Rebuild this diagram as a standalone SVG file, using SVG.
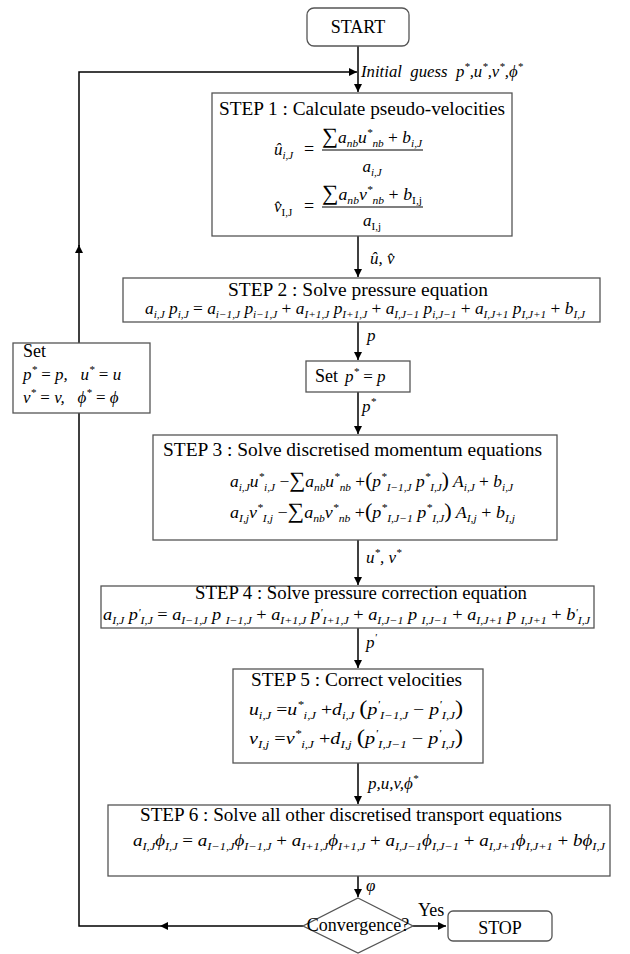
<svg xmlns="http://www.w3.org/2000/svg" width="630" height="954" viewBox="0 0 630 954">
<style>
.box{fill:#fff;stroke:#555;stroke-width:1.3}
.con{fill:none;stroke:#000;stroke-width:1.5}
text{font-family:"Liberation Serif","Times New Roman",serif}
.t{font-size:18px;fill:#000}
.e{font-style:italic;font-size:17px;fill:#000}
.n{font-style:normal}
.sb{font-size:11px;baseline-shift:-4px}
.sp{font-size:11px;baseline-shift:7px}
.sp4{font-size:11px;baseline-shift:4px}
.big{font-style:normal;font-size:22px}
.par{font-style:normal;font-size:21px}
</style>
<defs>
<marker id="ah" markerUnits="userSpaceOnUse" markerWidth="9" markerHeight="9" refX="8" refY="4" orient="auto">
<path d="M0,0 L8,4 L0,8 z" fill="#000"/>
</marker>
</defs>

<g id="connectors">
<path class="con" d="M358 46 V92" marker-end="url(#ah)"/>
<path class="con" d="M358 236 V277" marker-end="url(#ah)"/>
<path class="con" d="M358 322 V360" marker-end="url(#ah)"/>
<path class="con" d="M358 392 V434" marker-end="url(#ah)"/>
<path class="con" d="M358 540 V585" marker-end="url(#ah)"/>
<path class="con" d="M358 628 V668" marker-end="url(#ah)"/>
<path class="con" d="M358 763 V804" marker-end="url(#ah)"/>
<path class="con" d="M358 876 V897" marker-end="url(#ah)"/>
<path class="con" d="M413 926 H446" marker-end="url(#ah)"/>
<path class="con" d="M303 926 H160" marker-end="url(#ah)"/>
<path class="con" d="M160 926 H79 V245" marker-end="url(#ah)"/>
<path class="con" d="M79 246 V72 H357" marker-end="url(#ah)"/>
<text class="e" x="361" y="77" font-size="16" xml:space="preserve" textLength="162" lengthAdjust="spacingAndGlyphs">Initial  guess  p<tspan class="sp">*</tspan>,u<tspan class="sp">*</tspan>,v<tspan class="sp">*</tspan>,ϕ<tspan class="sp">*</tspan></text>
<text class="e" x="370" y="264">û, v̂</text>
<text class="e" x="367" y="341">p</text>
<text class="e" x="362" y="412">p<tspan class="sp">*</tspan></text>
<text class="e" x="366" y="563">u<tspan class="sp">*</tspan>, v<tspan class="sp">*</tspan></text>
<text class="e" x="366" y="648">p<tspan class="sp">'</tspan></text>
<text class="e" x="368" y="789">p,u,v,ϕ<tspan class="sp">*</tspan></text>
<text class="e" x="366" y="891" font-size="14">φ</text>
<text class="t" x="418" y="916">Yes</text>
</g>

<g id="start">
<rect class="box" x="307" y="8" width="102" height="38" rx="7"/>
<text class="t" x="358" y="33" text-anchor="middle" font-size="17">START</text>
</g>

<g id="step1">
<rect class="box" x="212" y="93" width="300" height="143"/>
<text class="t" x="219" y="115" textLength="286" lengthAdjust="spacingAndGlyphs">STEP 1 : Calculate pseudo-velocities</text>
<text class="e" x="274" y="155">û<tspan class="sb">i,J</tspan></text>
<text class="t" x="304" y="155" font-size="17">=</text>
<text class="e" x="322" y="143" textLength="100" lengthAdjust="spacingAndGlyphs"><tspan class="big">∑</tspan>a<tspan class="sb">nb</tspan>u<tspan class="sp">*</tspan><tspan class="sb">nb</tspan> <tspan class="n">+</tspan> b<tspan class="sb">i,J</tspan></text>
<line x1="322" y1="150" x2="423" y2="150" stroke="#000" stroke-width="1.2"/>
<text class="e" x="372" y="172" text-anchor="middle">a<tspan class="sb">i,J</tspan></text>
<text class="e" x="274" y="212">v̂<tspan class="sb n">I,J</tspan></text>
<text class="t" x="304" y="212" font-size="17">=</text>
<text class="e" x="322" y="200" textLength="100" lengthAdjust="spacingAndGlyphs"><tspan class="big">∑</tspan>a<tspan class="sb">nb</tspan>v<tspan class="sp">*</tspan><tspan class="sb">nb</tspan> <tspan class="n">+</tspan> b<tspan class="sb n">I,j</tspan></text>
<line x1="322" y1="207" x2="423" y2="207" stroke="#000" stroke-width="1.2"/>
<text class="e" x="372" y="226" text-anchor="middle">a<tspan class="sb n">I,j</tspan></text>
</g>

<g id="step2">
<rect class="box" x="123" y="278" width="477" height="44"/>
<text class="t" x="228" y="296" textLength="260" lengthAdjust="spacingAndGlyphs">STEP 2 : Solve pressure equation</text>
<text class="e" x="145" y="314" textLength="440" lengthAdjust="spacingAndGlyphs">a<tspan class="sb">i,J</tspan> p<tspan class="sb">i,J</tspan> <tspan class="n">=</tspan> a<tspan class="sb">i−1,J</tspan> p<tspan class="sb">i−1,J</tspan> <tspan class="n">+</tspan> a<tspan class="sb">I+1,J</tspan> p<tspan class="sb">I+1,J</tspan> <tspan class="n">+</tspan> a<tspan class="sb">I,J−1</tspan> p<tspan class="sb">i,J−1</tspan> <tspan class="n">+</tspan> a<tspan class="sb">I,J+1</tspan> p<tspan class="sb">I,J+1</tspan> <tspan class="n">+</tspan> b<tspan class="sb">I,J</tspan></text>
</g>

<g id="set-p">
<rect class="box" x="306" y="361" width="104" height="31"/>
<text class="t" x="315" y="382" font-size="17">Set</text>
<text class="e" x="345" y="382">p<tspan class="sp">*</tspan> <tspan class="n">=</tspan> p</text>
</g>

<g id="set-all">
<rect class="box" x="13" y="343" width="137" height="70"/>
<text class="t" x="23" y="357" font-size="17">Set</text>
<text class="e" x="23" y="380" xml:space="preserve">p<tspan class="sp">*</tspan> <tspan class="n">=</tspan> p,   u<tspan class="sp">*</tspan> <tspan class="n">=</tspan> u</text>
<text class="e" x="23" y="403" xml:space="preserve">v<tspan class="sp">*</tspan> <tspan class="n">=</tspan> v,   ϕ<tspan class="sp">*</tspan> <tspan class="n">=</tspan> ϕ</text>
</g>

<g id="step3">
<rect class="box" x="153" y="435" width="404" height="105"/>
<text class="t" x="163" y="456" textLength="379" lengthAdjust="spacingAndGlyphs">STEP 3 : Solve discretised momentum equations</text>
<text class="e" x="230" y="487" textLength="283" lengthAdjust="spacingAndGlyphs">a<tspan class="sb">i,J</tspan>u<tspan class="sp">*</tspan><tspan class="sb">i,J</tspan> <tspan class="n">−</tspan><tspan class="big">∑</tspan>a<tspan class="sb">nb</tspan>u<tspan class="sp">*</tspan><tspan class="sb">nb</tspan> <tspan class="n">+</tspan><tspan class="par">(</tspan>p<tspan class="sp">*</tspan><tspan class="sb">I−1,J</tspan>  p<tspan class="sp">*</tspan><tspan class="sb">I,J</tspan><tspan class="par">)</tspan> A<tspan class="sb">i,J</tspan> <tspan class="n">+</tspan> b<tspan class="sb">i,J</tspan></text>
<text class="e" x="230" y="518" textLength="285" lengthAdjust="spacingAndGlyphs">a<tspan class="sb">I,j</tspan>v<tspan class="sp">*</tspan><tspan class="sb">I,j</tspan> <tspan class="n">−</tspan><tspan class="big">∑</tspan>a<tspan class="sb">nb</tspan>v<tspan class="sp">*</tspan><tspan class="sb">nb</tspan> <tspan class="n">+</tspan><tspan class="par">(</tspan>p<tspan class="sp">*</tspan><tspan class="sb">I,J−1</tspan>  p<tspan class="sp">*</tspan><tspan class="sb">I,J</tspan><tspan class="par">)</tspan> A<tspan class="sb">I,j</tspan> <tspan class="n">+</tspan> b<tspan class="sb">I,j</tspan></text>
</g>

<g id="step4">
<rect class="box" x="101" y="586" width="493" height="42"/>
<text class="t" x="195" y="599" textLength="332" lengthAdjust="spacingAndGlyphs">STEP 4 : Solve pressure correction equation</text>
<text class="e" x="103" y="620" textLength="487" lengthAdjust="spacingAndGlyphs">a<tspan class="sb">I,J</tspan> p<tspan class="sp4">'</tspan><tspan class="sb">I,J</tspan> <tspan class="n">=</tspan> a<tspan class="sb">I−1,J</tspan> p <tspan class="sb">I−1,J</tspan> <tspan class="n">+</tspan> a<tspan class="sb">I+1,J</tspan> p<tspan class="sp4">'</tspan><tspan class="sb">I+1,J</tspan> <tspan class="n">+</tspan> a<tspan class="sb">I,J−1</tspan> p <tspan class="sb">I,J−1</tspan> <tspan class="n">+</tspan> a<tspan class="sb">I,J+1</tspan> p <tspan class="sb">I,J+1</tspan> <tspan class="n">+</tspan> b<tspan class="sp4">'</tspan><tspan class="sb">I,J</tspan></text>
</g>

<g id="step5">
<rect class="box" x="233" y="669" width="250" height="94"/>
<text class="t" x="251" y="686" textLength="211" lengthAdjust="spacingAndGlyphs">STEP 5 : Correct velocities</text>
<text class="e" x="249" y="715" textLength="214" lengthAdjust="spacingAndGlyphs">u<tspan class="sb">i,J</tspan> <tspan class="n">=</tspan>u<tspan class="sp">*</tspan><tspan class="sb">i,J</tspan> <tspan class="n">+</tspan>d<tspan class="sb">i,J</tspan> <tspan class="par">(</tspan>p<tspan class="sp">'</tspan><tspan class="sb">I−1,J</tspan> <tspan class="n">−</tspan> p<tspan class="sp">'</tspan><tspan class="sb">I,J</tspan><tspan class="par">)</tspan></text>
<text class="e" x="249" y="744" textLength="214" lengthAdjust="spacingAndGlyphs">v<tspan class="sb">I,j</tspan> <tspan class="n">=</tspan>v<tspan class="sp">*</tspan><tspan class="sb">i,J</tspan> <tspan class="n">+</tspan>d<tspan class="sb">I,j</tspan> <tspan class="par">(</tspan>p<tspan class="sp">'</tspan><tspan class="sb">I,J−1</tspan> <tspan class="n">−</tspan> p<tspan class="sp">'</tspan><tspan class="sb">I,J</tspan><tspan class="par">)</tspan></text>
</g>

<g id="step6">
<rect class="box" x="108" y="805" width="502" height="71"/>
<text class="t" x="140" y="821" textLength="422" lengthAdjust="spacingAndGlyphs">STEP 6 : Solve all other discretised transport equations</text>
<text class="e" x="133" y="846" font-size="19" textLength="472" lengthAdjust="spacingAndGlyphs">a<tspan class="sb">I,J</tspan>ϕ<tspan class="sb">I,J</tspan> <tspan class="n">=</tspan> a<tspan class="sb">I−1,J</tspan>ϕ<tspan class="sb">I−1,J</tspan> <tspan class="n">+</tspan> a<tspan class="sb">I+1,J</tspan>ϕ<tspan class="sb">I+1,J</tspan> <tspan class="n">+</tspan> a<tspan class="sb">I,J−1</tspan>ϕ<tspan class="sb">I,J−1</tspan> <tspan class="n">+</tspan> a<tspan class="sb">I,J+1</tspan>ϕ<tspan class="sb">I,J+1</tspan> <tspan class="n">+</tspan> bϕ<tspan class="sb">I,J</tspan></text>
</g>

<g id="convergence">
<polygon class="box" points="358,898 413,926 358,953 303,926"/>
<text class="t" x="358" y="931" text-anchor="middle" font-size="13">Convergence?</text>
</g>

<g id="stop">
<rect class="box" x="448" y="911" width="104" height="30" rx="5"/>
<text class="t" x="500" y="934" text-anchor="middle" font-size="20">STOP</text>
</g>
</svg>
